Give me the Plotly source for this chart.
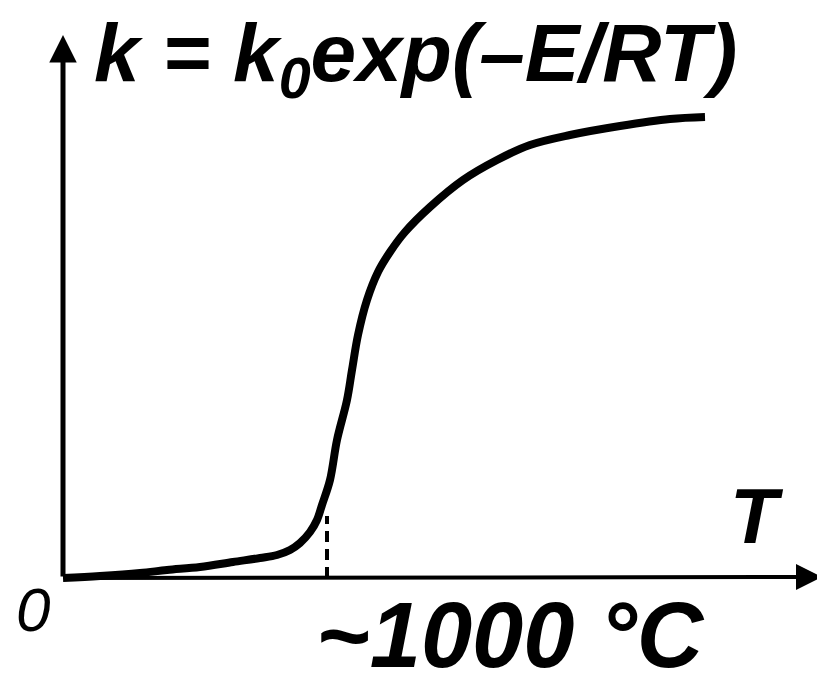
import plotly.graph_objects as go

# Curve (T in px-units right of origin, k in px-units above origin)
T_vals = [0, 37, 77, 104, 137, 170, 197, 214, 227, 237, 247, 254, 259, 267, 274, 284, 289, 295,
          304, 315, 327, 342, 367, 400, 434, 467, 507, 557, 607, 642]
k_vals = [0, 2, 5, 8, 11, 16, 20, 23, 28, 35, 46, 58, 73, 98, 138, 178, 208, 243,
          278, 306, 326, 346, 371, 398, 418, 433, 443, 452, 459, 461]

marker_T = 264          # ~1000 °C position
marker_k_top = 62

title_text = "<b><i>k = k<sub>0</sub>exp(–E/RT)</i></b>"
x_label = "<b><i>T</i></b>"
origin_label = "<i>0</i>"
marker_label = "<b><i>~1000 °C</i></b>"

FONT = "Liberation Sans, Arial, sans-serif"

fig = go.Figure()
fig.add_trace(go.Scatter(x=T_vals, y=k_vals, mode="lines",
                         line=dict(color="black", width=8, shape="spline", smoothing=1.0),
                         hoverinfo="skip"))
fig.add_trace(go.Scatter(x=[marker_T, marker_T], y=[0, marker_k_top], mode="lines",
                         line=dict(color="black", width=4, dash="11px,7px"), hoverinfo="skip"))

annotations = [
    # y axis with arrow
    dict(x=0, y=543, ax=0, ay=0, xref="x", yref="y", axref="x", ayref="y",
         showarrow=True, arrowhead=2, arrowsize=1.1, arrowwidth=5, arrowcolor="black", text=""),
    # x axis with arrow
    dict(x=759, y=1, ax=0, ay=0, xref="x", yref="y", axref="x", ayref="y",
         showarrow=True, arrowhead=2, arrowsize=1.3, arrowwidth=4, arrowcolor="black", text=""),
    dict(x=29, y=520, xref="x", yref="y", xanchor="left", yanchor="middle", showarrow=False,
         text=title_text, font=dict(family=FONT, size=82, color="black")),
    dict(x=694, y=62, xref="x", yref="y", xanchor="center", yanchor="middle", showarrow=False,
         text=x_label, font=dict(family=FONT, size=78, color="black")),
    dict(x=-30, y=-31, xref="x", yref="y", xanchor="center", yanchor="middle", showarrow=False,
         text=origin_label, font=dict(family=FONT, size=62, color="black")),
    dict(x=447, y=-57, xref="x", yref="y", xanchor="center", yanchor="middle", showarrow=False,
         text=marker_label, font=dict(family=FONT, size=92, color="black")),
]

# page body adds an 8px offset; compensate so the origin sits at (63, 578) on screen
fig.update_layout(
    width=825, height=678, autosize=False,
    margin=dict(l=0, r=0, t=0, b=0),
    paper_bgcolor="white", plot_bgcolor="white",
    showlegend=False,
    xaxis=dict(range=[-55, 770], visible=False, fixedrange=True),
    yaxis=dict(range=[-108, 570], visible=False, fixedrange=True),
    annotations=annotations,
)

fig.write_html("out.html")
